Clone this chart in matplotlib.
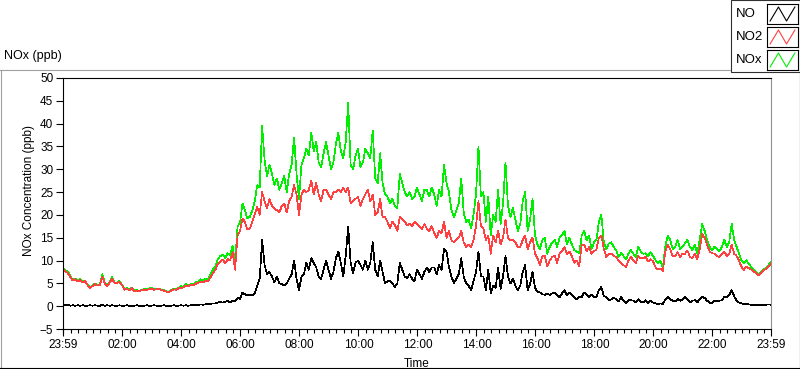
import numpy as np
import matplotlib
matplotlib.use('Agg')
import matplotlib.pyplot as plt
from matplotlib.lines import Line2D
from matplotlib.patches import Rectangle

plt.rcParams['font.family'] = ['Liberation Sans', 'DejaVu Sans']

# one sample every 5 minutes, first sample at 23:59 of the previous day
step_min = 5

no = [
    0.3, 0.2, 0.4, 0.1, 0.2, 0.1, 0.2, 0.1, 0.2, 0.1, 0.1, 0.2,
    0.1, 0.2, 0.1, 0.1, 0.3, 0.1, 0.2, 0.1, 0.2, 0.1, 0.1, 0.2,
    0.1, 0.1, 0.2, 0.1, 0.1, 0.1, 0.2, 0.1, 0.1, 0.1, 0.2, 0.1,
    0.1, 0.2, 0.1, 0.1, 0.1, 0.2, 0.1, 0.1, 0.1, 0.2, 0.1, 0.1,
    0.2, 0.1, 0.2, 0.1, 0.2, 0.2, 0.3, 0.3, 0.4, 0.3, 0.4, 0.5,
    0.5, 0.6, 0.6, 0.8, 0.9, 0.8, 1.0, 1.1, 0.9, 1.2, 1.0, 1.8,
    1.6, 3.0, 2.6, 2.4, 2.5, 2.4, 2.9, 4.5, 6.0, 14.5, 9.0, 7.0,
    7.5, 6.5, 5.2, 6.5, 5.0, 4.8, 4.5, 5.0, 6.0, 7.0, 10.0, 6.0,
    3.5, 6.5, 7.0, 9.5, 8.0, 10.5, 9.5, 8.5, 6.5, 6.0, 8.0, 10.0,
    8.0, 6.0, 7.5, 10.5, 12.0, 9.5, 6.5, 11.0, 17.5, 9.5, 7.2, 9.5,
    10.0, 9.0, 8.0, 10.0, 8.0, 9.5, 14.0, 8.0, 6.5, 10.0, 7.5, 5.0,
    5.5, 5.5, 5.0, 4.2, 5.0, 9.5, 8.0, 6.5, 6.2, 7.0, 6.0, 5.5,
    8.0, 7.0, 6.0, 7.5, 8.5, 7.5, 8.5, 8.5, 7.0, 9.0, 8.0, 12.5,
    12.0, 8.5, 6.5, 5.0, 6.0, 7.0, 10.5, 6.5, 5.0, 4.5, 3.5, 5.5,
    7.5, 12.0, 6.5, 6.5, 3.5, 8.0, 2.8, 4.5, 4.0, 8.5, 3.8, 6.5,
    11.0, 6.5, 5.0, 6.0, 4.5, 3.5, 4.5, 7.5, 9.0, 3.5, 4.8, 7.5,
    4.0, 3.2, 3.0, 2.6, 2.5, 2.7, 2.5, 2.8, 3.0, 2.4, 2.0, 2.8,
    3.5, 2.4, 3.0, 2.5, 2.0, 1.5, 2.0, 2.0, 3.0, 2.5, 2.0, 2.5,
    2.0, 2.0, 3.5, 4.2, 2.2, 2.0, 1.3, 1.5, 1.8, 1.6, 1.0, 2.0,
    1.2, 0.6, 1.3, 1.3, 1.2, 0.8, 1.5, 1.0, 0.8, 1.3, 0.7, 1.2,
    0.8, 0.6, 0.5, 0.6, 0.5, 1.5, 2.0, 1.5, 1.2, 1.0, 1.6, 1.2,
    1.5, 2.0, 1.6, 0.8, 1.2, 1.3, 0.8, 1.5, 2.0, 1.8, 1.2, 0.8,
    0.6, 1.2, 1.0, 1.2, 1.3, 2.0, 2.0, 2.5, 3.5, 2.2, 1.2, 0.8,
    0.6, 0.4, 0.6, 0.4, 0.3, 0.3, 0.3, 0.2, 0.3, 0.3, 0.3, 0.4,
    0.3,
]

no2 = [
    8.1, 7.7, 7.2, 6.4, 5.6, 5.9, 5.4, 5.8, 5.2, 5.5, 4.6, 4.0,
    4.4, 4.8, 4.5, 4.7, 6.5, 5.0, 4.4, 5.2, 6.0, 5.0, 5.1, 5.3,
    4.6, 3.6, 3.8, 3.5, 4.0, 3.3, 3.4, 3.2, 3.5, 3.6, 3.5, 3.8,
    3.9, 3.6, 3.7, 3.8, 3.5, 3.4, 3.2, 3.0, 3.4, 3.7, 3.6, 3.9,
    4.0, 4.1, 4.5, 4.4, 4.7, 4.5, 4.9, 5.1, 5.3, 5.2, 5.6, 5.4,
    6.3, 7.2, 8.0, 9.3, 9.8, 10.2, 9.4, 10.3, 10.0, 11.8, 8.0, 15.5,
    16.5, 19.2, 18.5, 16.8, 17.0, 18.5, 20.2, 21.8, 20.0, 25.0, 23.0, 21.5,
    23.5, 22.0, 21.5, 21.0, 20.5, 22.0, 22.5, 20.5, 23.0, 24.0, 26.5, 24.5,
    20.0, 24.5, 25.5, 25.0, 25.5, 27.5, 24.5, 27.0, 24.5, 23.0, 25.5, 25.5,
    24.5, 23.5, 25.0, 25.0, 25.5, 25.0, 26.0, 25.0, 26.0, 22.5, 23.0, 23.5,
    24.0, 22.0, 23.5, 24.5, 25.5, 23.0, 24.5, 20.0, 20.5, 23.5, 19.5, 19.5,
    18.5, 17.0, 18.5, 17.8, 16.5, 19.5, 19.0, 18.5, 17.8, 18.0, 17.5, 18.5,
    18.0, 17.5, 16.8, 18.0, 17.0, 16.5, 17.5, 16.0, 15.0, 16.5, 16.0, 18.5,
    15.0, 16.5, 14.5, 14.0, 14.5, 15.0, 16.5, 14.0, 13.0, 13.5, 13.0, 14.5,
    17.5, 23.0, 17.5, 17.0, 14.5, 15.5, 11.5, 15.5, 14.0, 16.5, 13.5, 15.0,
    19.0, 15.0, 14.5, 14.5, 14.0, 13.0, 13.0, 14.5, 15.5, 12.5, 14.0, 15.0,
    11.5, 10.5, 9.0, 11.0, 11.0, 8.7, 10.0, 10.8, 11.0, 9.5, 11.5, 12.0,
    13.0, 11.5, 12.0, 11.0, 9.5, 10.0, 8.8, 13.5, 13.5, 12.0, 13.0, 11.5,
    12.0, 12.5, 15.0, 15.5, 12.5, 10.8, 11.5, 11.5, 11.0, 10.8, 10.0, 9.5,
    9.0, 8.6, 10.0, 10.8, 10.0, 9.4, 11.0, 10.5, 10.5, 10.8, 9.8, 10.3,
    9.8, 8.6, 8.0, 8.3, 7.6, 12.0, 13.5, 12.5, 11.0, 11.0, 11.8, 10.8,
    11.5, 11.5, 12.2, 10.8, 10.5, 11.5, 10.2, 12.5, 15.8, 15.0, 13.5, 12.0,
    11.6, 11.5, 11.0, 10.8, 11.5, 12.0, 11.0, 11.5, 13.5, 11.5, 11.0, 10.0,
    8.6, 8.0, 8.7, 8.3, 8.0, 7.6, 7.2, 6.8, 7.3, 7.8, 8.2, 8.6,
    9.4,
]

nox = [
    8.4, 7.9, 7.6, 6.5, 5.8, 6.0, 5.6, 5.9, 5.4, 5.6, 4.7, 4.2,
    4.5, 5.0, 4.6, 4.8, 7.0, 5.1, 4.6, 5.3, 6.4, 5.1, 5.2, 5.5,
    4.7, 3.7, 4.0, 3.6, 4.1, 3.4, 3.6, 3.3, 3.6, 3.7, 3.7, 3.9,
    4.0, 3.8, 3.8, 3.9, 3.6, 3.6, 3.3, 3.1, 3.5, 3.9, 3.7, 4.0,
    4.4, 4.2, 4.9, 4.5, 4.9, 4.7, 5.2, 5.4, 5.9, 5.5, 6.0, 5.9,
    6.9, 8.0, 8.8, 10.3, 11.0, 11.2, 10.6, 11.6, 11.2, 13.2, 9.3, 17.5,
    18.2, 22.5, 21.0, 19.2, 19.6, 21.0, 23.0, 26.5, 26.0, 39.5, 32.0, 28.5,
    31.0, 29.0, 26.5, 28.0, 25.5, 27.0, 28.5, 25.0, 29.0, 31.0, 37.0, 29.0,
    23.5, 31.0, 32.5, 34.5, 33.0, 38.0, 34.0, 36.0, 31.5, 30.5, 33.5, 36.0,
    33.0, 30.0, 31.5, 35.5, 38.0, 34.0, 32.5, 36.0, 44.5, 31.0, 30.0, 33.0,
    34.5, 30.5, 31.5, 34.5, 33.5, 32.5, 38.5, 28.0, 27.0, 33.5, 27.0, 24.5,
    24.0, 22.5, 23.5, 22.0, 21.5, 29.0, 27.0, 25.0, 24.0, 25.0, 23.5, 24.0,
    26.0, 24.5, 23.0, 25.5, 25.5, 24.0, 26.0, 24.5, 22.0, 25.5, 24.0, 31.0,
    27.0, 25.0, 21.0, 19.5, 21.0, 22.5, 28.0, 20.5, 18.5, 19.0, 17.0, 20.0,
    24.5, 35.0, 24.0, 25.0, 18.5, 24.0, 15.5, 20.0, 18.5, 25.5, 18.0, 22.5,
    31.5, 22.0, 19.5, 21.5, 19.0, 16.5, 18.0, 23.0, 25.0, 16.5, 19.0, 23.5,
    15.5, 13.5, 12.5, 14.5, 15.0, 11.5, 13.0, 14.0, 14.5, 13.0, 15.0, 15.5,
    16.5, 13.5, 15.0, 13.5, 12.3, 12.0, 11.6, 15.5, 16.5, 14.5, 15.5, 12.5,
    14.0, 14.5, 18.5, 20.0, 14.0, 12.5, 13.7, 14.0, 13.0, 12.3, 10.8, 11.6,
    11.0, 10.2, 11.5, 12.3, 11.5, 10.8, 13.0, 12.0, 11.5, 11.6, 11.0, 11.8,
    11.0, 10.1, 9.4, 10.0, 8.5, 13.0, 15.5, 14.5, 12.5, 13.0, 14.5, 12.5,
    13.0, 13.8, 14.5, 13.0, 12.3, 13.5, 11.5, 14.5, 18.0, 16.5, 14.5, 13.0,
    12.3, 13.0, 12.5, 12.0, 13.0, 14.5, 13.0, 14.0, 18.0, 14.5, 13.0, 11.5,
    10.0, 9.4, 10.1, 9.2, 8.6, 7.9, 7.5, 6.9, 7.5, 8.0, 8.4, 9.0,
    9.7,
]

time_labels = ['23:59', '02:00', '04:00', '06:00', '08:00', '10:00', '12:00',
               '14:00', '16:00', '18:00', '20:00', '22:00', '23:59']

series_names = ['NO', 'NO2', 'NOx']
series_colors = ['black', '#ff4040', '#00ee00']

minutes = np.arange(len(no)) * step_min
span = minutes[-1]


def label_to_minutes(lab, i):
    # minutes elapsed since the first sample (23:59)
    if i == 0:
        return 0
    if i == len(time_labels) - 1:
        return span
    h, m = lab.split(':')
    return int(h) * 60 + int(m) + 1


tick_pos = [label_to_minutes(l, i) for i, l in enumerate(time_labels)]
minor_pos = np.arange(1, span, 15)

W, H = 800, 369


def fx(x):
    return x / W


def fy(y):
    return 1 - y / H


fig = plt.figure(figsize=(W / 100, H / 100), dpi=100)

# sunken panel frame and legend box
frame_gray = '#a0a0a0'
fig.add_artist(Line2D([fx(0), fx(730)], [fy(69.5), fy(69.5)], color=frame_gray, lw=0.8, transform=fig.transFigure))
fig.add_artist(Line2D([fx(0.5), fx(0.5)], [fy(69.5), fy(368)], color=frame_gray, lw=0.8, transform=fig.transFigure))
fig.add_artist(Line2D([fx(0), fx(800)], [fy(367.5), fy(367.5)], color='black', lw=0.8, transform=fig.transFigure))
fig.add_artist(Line2D([fx(799.5), fx(799.5)], [fy(72), fy(368)], color='black', lw=0.8, transform=fig.transFigure))
fig.add_artist(Rectangle((fx(730.5), fy(72)), (800 - 730.5) / W, 72 / H, transform=fig.transFigure,
                         facecolor='white', edgecolor='#303030', lw=0.8, zorder=-1))

fig.text(fx(4), fy(56), 'NOx (ppb)', fontsize=9, va='center', ha='left')

# legend rows
for i, (name, col) in enumerate(zip(series_names, series_colors)):
    cy = 14 + 23 * i
    fig.text(fx(736), fy(cy), name, fontsize=9.5, va='center', ha='left')
    lax = fig.add_axes([fx(767), fy(cy + 10), 31 / W, 20 / H])
    lax.set_zorder(5)
    lax.plot([0.1, 0.37, 0.63, 0.9], [0.15, 0.85, 0.15, 0.85], color=col, lw=0.8)
    lax.set_xlim(0, 1)
    lax.set_ylim(0, 1)
    lax.set_xticks([])
    lax.set_yticks([])
    for s in lax.spines.values():
        s.set_color('black')
        s.set_linewidth(0.8)

ax = fig.add_axes([fx(63), fy(329), 708 / W, 251 / H])
ax.plot(minutes, nox, color=series_colors[2], lw=0.5, antialiased=False)
ax.plot(minutes, no2, color=series_colors[1], lw=0.5, antialiased=False)
ax.plot(minutes, no, color=series_colors[0], lw=0.5, antialiased=False)

ax.set_xlim(0, span)
ax.set_ylim(-5, 50)
ax.set_yticks(np.arange(-5, 51, 5))
ax.set_xticks(tick_pos)
ax.set_xticklabels(time_labels)
ax.set_xticks(minor_pos, minor=True)

ax.tick_params(axis='both', which='major', direction='out', length=5, width=0.8, labelsize=8.5, pad=2)
ax.tick_params(axis='x', which='minor', direction='out', length=3, width=0.8)

ax.spines['left'].set_color('black')
ax.spines['bottom'].set_color('black')
ax.spines['top'].set_color('black')
ax.spines['right'].set_color('#909090')
for s in ax.spines.values():
    s.set_linewidth(0.8)

ax.set_ylabel('NOx Concentration (ppb)', fontsize=8.5)
ax.yaxis.set_label_coords((35 - 63) / 708, (329 - 190) / 251)
ax.set_xlabel('Time', fontsize=8.5)
ax.xaxis.set_label_coords(0.5, (329 - 358) / 251)

fig.savefig('out.png', dpi=100)
